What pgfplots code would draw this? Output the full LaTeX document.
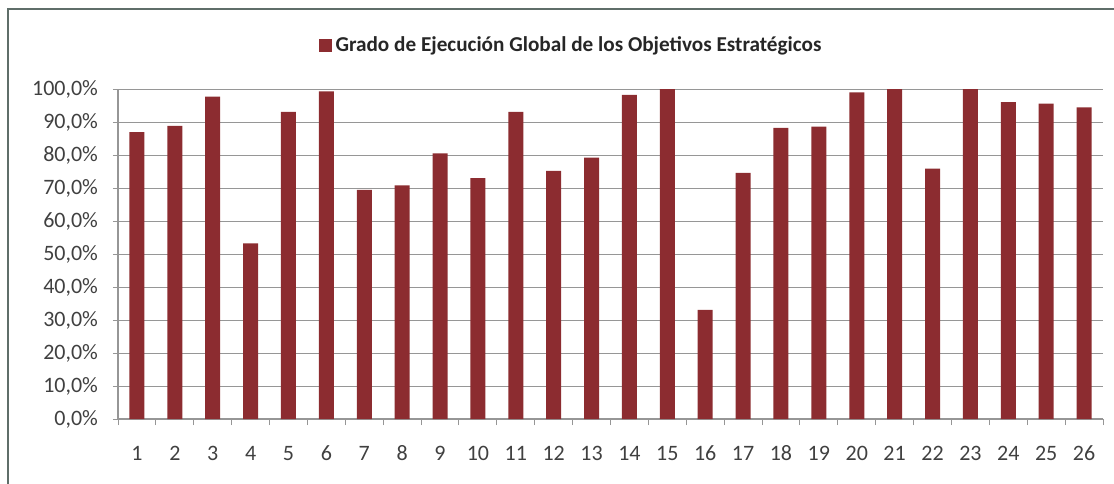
\documentclass[border=0pt]{standalone}
\usepackage{fontspec}
\setmainfont{Carlito}
\usepackage{pgfplots}
\pgfplotsset{compat=1.18}
\definecolor{barred}{RGB}{140,44,48}
\definecolor{txt}{RGB}{64,64,64}
\definecolor{gridc}{RGB}{150,150,150}
\definecolor{frame}{RGB}{95,110,105}
\begin{document}
\begin{tikzpicture}
\useasboundingbox (0,0) rectangle (557pt,241.5pt);
\draw[frame, line width=0.8pt] (4pt,-10pt) rectangle (570pt,237pt);
\begin{axis}[
  at={(59pt,32pt)}, anchor=south west,
  scale only axis,
  width=492.5pt, height=165pt,
  ybar, bar width=7.5pt, bar shift=0pt,
  xmin=0.5, xmax=26.5,
  ymin=0, ymax=100,
  xtick={1,...,26},
  minor xtick={0.5,1.5,...,26.5},
  ytick={0,10,...,100},
  yticklabels={{0,0\%},{10,0\%},{20,0\%},{30,0\%},{40,0\%},{50,0\%},{60,0\%},{70,0\%},{80,0\%},{90,0\%},{100,0\%}},
  /pgf/number format/assume math mode=true,
  axis lines*=left,
  axis line style={gridc, line width=0.6pt},
  ymajorgrids, major grid style={gridc, line width=0.5pt},
  tick align=outside,
  major x tick style={draw=none},
  minor x tick style={gridc, line width=0.5pt},
  minor tick length=3pt,
  major y tick style={gridc, line width=0.5pt},
  major tick length=2.5pt,
  tick label style={font=\fontsize{11}{13}\selectfont, text=txt},
  yticklabel style={xshift=-4pt},
  xticklabel style={yshift=-7pt, text height=7.5pt, text depth=0pt},
  legend style={at={(0.461,1.133)}, anchor=center, draw=none, fill=none,
    font=\fontsize{10.6}{12}\selectfont\bfseries, text=black!85},
  legend image code/.code={\fill[#1] (0,-0.32em) rectangle (0.64em,0.32em);},
]
\addplot[fill=barred, draw=none] coordinates {
(1,86.9) (2,88.8) (3,97.7) (4,53.2) (5,93.1) (6,99.3) (7,69.4) (8,70.8)
(9,80.5) (10,73.0) (11,93.1) (12,75.2) (13,79.2) (14,98.2) (15,100)
(16,33.1) (17,74.6) (18,88.2) (19,88.6) (20,99.0) (21,100) (22,75.9)
(23,100) (24,96.0) (25,95.6) (26,94.4)
};
\legend{Grado de Ejecución Global de los Objetivos Estratégicos}
\end{axis}
\end{tikzpicture}
\end{document}
